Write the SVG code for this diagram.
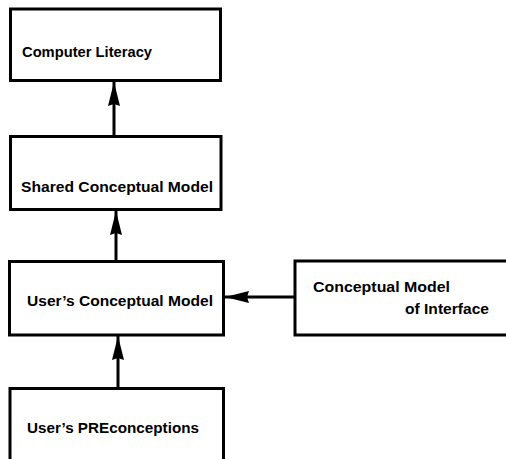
<svg xmlns="http://www.w3.org/2000/svg" width="506" height="459" viewBox="0 0 506 459">
<defs>
<style>
.box{fill:#fff;stroke:#000;stroke-width:3}
.lbl{font-family:"Liberation Sans",Arial,sans-serif;font-weight:bold;font-size:15.5px;fill:#000}
.conn{stroke:#000;stroke-width:3;fill:none}
</style>
<marker id="ah" markerWidth="24" markerHeight="12" refX="24" refY="6" orient="auto" markerUnits="userSpaceOnUse">
<path d="M0,0 L24,6 L0,12 L2,6 Z" fill="#000"/>
</marker>
</defs>
<rect width="506" height="459" fill="#fff"/>
<g id="computer-literacy">
<rect class="box" x="10.5" y="9" width="210" height="71.5"/>
<text class="lbl" x="22" y="57" textLength="130" lengthAdjust="spacingAndGlyphs">Computer Literacy</text>
</g>
<g id="shared-conceptual-model">
<rect class="box" x="10.5" y="136.5" width="210.5" height="73"/>
<text class="lbl" x="21" y="192" textLength="192" lengthAdjust="spacingAndGlyphs">Shared Conceptual Model</text>
</g>
<g id="users-conceptual-model">
<rect class="box" x="9.5" y="261.5" width="214" height="73.5"/>
<text class="lbl" x="27" y="306" textLength="186" lengthAdjust="spacingAndGlyphs">User’s Conceptual Model</text>
</g>
<g id="users-preconceptions">
<rect class="box" x="10" y="388.5" width="213.5" height="80"/>
<text class="lbl" x="27" y="433" textLength="172" lengthAdjust="spacingAndGlyphs">User’s PREconceptions</text>
</g>
<g id="conceptual-model-of-interface">
<rect class="box" x="295" y="261" width="220" height="74"/>
<text class="lbl" x="313" y="292" textLength="137" lengthAdjust="spacingAndGlyphs">Conceptual Model</text>
<text class="lbl" x="405" y="314" textLength="84" lengthAdjust="spacingAndGlyphs">of Interface</text>
</g>
<g id="connectors">
<line class="conn" x1="114" y1="136" x2="114" y2="82" marker-end="url(#ah)"/>
<line class="conn" x1="116" y1="261" x2="116" y2="211" marker-end="url(#ah)"/>
<line class="conn" x1="118" y1="388" x2="118" y2="336" marker-end="url(#ah)"/>
<line class="conn" x1="295" y1="297" x2="225" y2="297" marker-end="url(#ah)"/>
</g>
</svg>
